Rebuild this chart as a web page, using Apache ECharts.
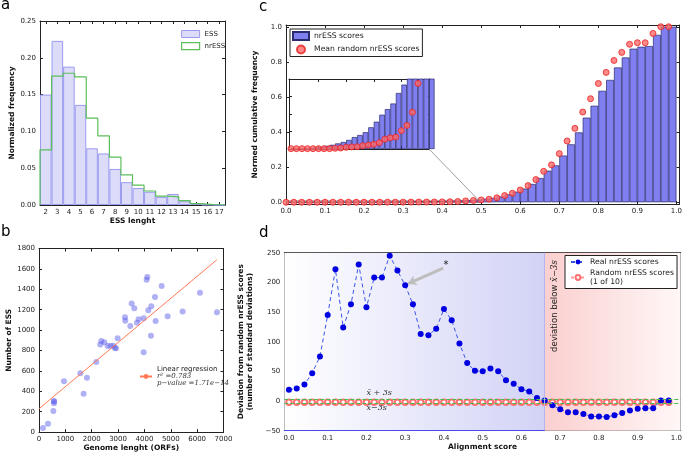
<!DOCTYPE html>
<html>
<head>
<meta charset="utf-8">
<script src="https://cdn.jsdelivr.net/npm/echarts@6.0.0/dist/echarts.min.js"></script>
<style>
html,body{margin:0;padding:0;background:#fff;}
#chart{width:685px;height:454px;}
</style>
</head>
<body>
<div id="chart"></div>
<script>
// ---------------- Panel a : ESS length histogram ----------------
const essLengths = ['2','3','4','5','6','7','8','9','10','11','12','13','14','15','16','17'];
const essFreq   = [0.150,0.223,0.188,0.136,0.077,0.070,0.049,0.031,0.023,0.018,0.011,0.015,0.005,0.0014,0.0005,0];
const nrEssFreq = [0.075,0.175,0.179,0.174,0.118,0.094,0.065,0.041,0.027,0.019,0.012,0.011,0.006,0.0018,0.0005,0];
const aYTicks = [0,0.05,0.10,0.15,0.20,0.25];

// ---------------- Panel b : ESS vs genome length ----------------
const genomeOrfs = [152,341,544,569,569,948,1568,1694,1820,2174,2326,2364,2478,2604,2718,2819,2882,2920,2983,3262,3274,3464,3515,3616,3717,3780,3970,3970,4083,4109,4147,4248,4260,4400,4425,4652,4880,5449,6106,6751,569];
const essCounts  = [41,83,206,284,304,499,577,376,532,688,860,893,880,844,847,847,824,821,919,1127,1091,1039,1260,1215,1072,1107,1117,782,1494,1520,1195,945,1234,1325,1088,1432,1136,1182,1365,1176,300];
const regressionX = [0, 6751];
const regressionY = [229, 1690];
const r2Text = '0.783';
const pValueText = '1.71e\u221214';
const bXTicks = [0,1000,2000,3000,4000,5000,6000,7000];
const bYTicks = [0,200,400,600,800,1000,1200,1400,1600,1800];

// ---------------- Panel c : cumulative frequency ----------------
const scoreBins = [0.00,0.02,0.04,0.06,0.08,0.10,0.12,0.14,0.16,0.18,0.20,0.22,0.24,0.26,0.28,0.30,0.32,0.34,0.36,0.38,0.40,0.42,0.44,0.46,0.48,0.50,0.52,0.54,0.56,0.58,0.60,0.62,0.64,0.66,0.68,0.70,0.72,0.74,0.76,0.78,0.80,0.82,0.84,0.86,0.88,0.90,0.92,0.94,0.96,0.98];
const nrEssCumFreq = [0.00006,0.00008,0.0001,0.00014,0.0002,0.00024,0.00036,0.00048,0.00064,0.0008,0.00104,0.00136,0.0016,0.00192,0.00248,0.00312,0.00392,0.00456,0.0052,0.0064,0.00736,0.0085,0.010,0.012,0.015,0.020,0.025,0.033,0.045,0.060,0.078,0.104,0.138,0.180,0.210,0.266,0.330,0.398,0.482,0.550,0.635,0.697,0.768,0.825,0.875,0.886,0.890,0.954,1.0,1.0];
const randomCumFreq = [0.00004,0.00004,0.00004,0.00004,0.00004,0.00004,0.00004,0.00004,0.00008,0.00011,0.00019,0.00024,0.00026,0.00038,0.00046,0.00054,0.00072,0.00112,0.00128,0.00136,0.0021,0.0027,0.0042,0.0075,0.010,0.013,0.017,0.025,0.038,0.051,0.070,0.095,0.129,0.176,0.213,0.277,0.349,0.421,0.514,0.590,0.677,0.740,0.808,0.854,0.900,0.909,0.909,0.962,1.0,1.0];
const cXTicks = [0,0.1,0.2,0.3,0.4,0.5,0.6,0.7,0.8,0.9,1.0];
const cYTicks = [0,0.2,0.4,0.6,0.8,1.0];
const insetXTicks = [0.1,0.2,0.3,0.4];
const insetYTicks = [0.002,0.004,0.006];

// ---------------- Panel d : deviation ----------------
const realDeviation = [19,21,28,47,75,145,222,124,163,230,158,208,208,245,220,195,163,113,111,122,155,136,97,64,51,50,55,50,35,29,20,16,5,1,-7,-14,-19,-19,-22,-26,-26,-27,-24,-20,-16,-13,-12,-12,1,1];
const randomDeviation = [-2,-2,-2,-2,-2,-2,-2,-2,-2,-2,-2,-2,-2,-2,-2,-2,-2,-2,-2,-2,-2,-2,-2,-2,-2,-2,-2,-2,-2,-2,-2,-2,-2,-2,-2,-2,-2,-2,-2,-2,-2,-2,-2,-2,-2,-2,-2,-2,-2,-2];
const dYTicks = [-50,0,50,100,150,200,250];
const plus3s = 3, minus3s = -3.5;
const thresholdScore = 0.66;

// ---------------- build ----------------
const FONT = 'DejaVu Sans';
const SERIF = 'DejaVu Serif';
const AX = '#222';

function mkAxis(gi, pos, o) {
  const lab = (pos === 'bottom' || pos === 'left') && !o.noLabels;
  const a = {
    type: o.type || 'value', gridIndex: gi, position: pos,
    min: o.min, max: o.max,
    axisLine: {show: true, onZero: false, lineStyle: {color: AX, width: 1}},
    axisTick: {show: true, inside: true, length: 3, lineStyle: {color: AX}},
    axisLabel: {show: lab, fontSize: 7, color: '#222', fontFamily: FONT, margin: 4},
    splitLine: {show: false},
    silent: true
  };
  if (o.data) { a.data = o.data; a.axisTick.alignWithLabel = true; a.axisTick.interval = 0; a.axisLabel.interval = 0; }
  if (o.ticks) { a.axisTick.customValues = o.ticks; a.axisLabel.customValues = o.ticks; }
  if (o.fmt) a.axisLabel.formatter = o.fmt;
  if (lab && o.name) {
    a.name = o.name; a.nameLocation = 'middle'; a.nameGap = o.nameGap;
    a.nameTextStyle = {fontSize: 7.5, fontWeight: 'bold', fontFamily: FONT, color: '#111', lineHeight: 9};
  }
  return a;
}
const f2 = v => v.toFixed(2), f1 = v => v.toFixed(1);
const f0 = v => String(v);
const fm = v => (v < 0 ? '\u2212' + (-v) : String(v));

const grid = [
  {left: 40, top: 21, width: 185, height: 184},
  {left: 39, top: 248.5, width: 184.5, height: 184.5},
  {left: 286, top: 25, width: 396.5, height: 179},
  {left: 284.3, top: 252.7, width: 399, height: 178},
  {left: 289, top: 79, width: 140, height: 70, show: true, backgroundColor: '#fff', borderWidth: 0}
];

const xAxis = [
  mkAxis(0, 'bottom', {type: 'category', data: essLengths, name: 'ESS lenght', nameGap: 11}),       // 0
  mkAxis(0, 'top', {min: 1.5, max: 17.5, ticks: essLengths.map(Number)}),                          // 1
  mkAxis(1, 'bottom', {min: 0, max: 7000, ticks: bXTicks, fmt: f0, name: 'Genome lenght (ORFs)', nameGap: 11}), // 2
  mkAxis(1, 'top', {min: 0, max: 7000, ticks: bXTicks}),                                          // 3
  mkAxis(2, 'bottom', {min: 0, max: 1.008, ticks: cXTicks, fmt: f1}),                              // 4
  mkAxis(2, 'top', {min: 0, max: 1.008, ticks: cXTicks}),                                         // 5
  mkAxis(3, 'bottom', {min: -0.012, max: 1.011, ticks: cXTicks, fmt: f1, name: 'Alignment score', nameGap: 12}), // 6
  mkAxis(3, 'top', {min: -0.012, max: 1.011, ticks: cXTicks}),                                    // 7
  mkAxis(4, 'bottom', {min: -0.007, max: 0.5, ticks: insetXTicks, noLabels: true}),               // 8
  mkAxis(4, 'top', {min: -0.007, max: 0.5, ticks: insetXTicks})                                   // 9
];
const yAxis = [
  mkAxis(0, 'left', {min: 0, max: 0.25, ticks: aYTicks, fmt: f2, name: 'Normalized frequency', nameGap: 20}), // 0
  mkAxis(0, 'right', {min: 0, max: 0.25, ticks: aYTicks}),                                        // 1
  mkAxis(1, 'left', {min: 0, max: 1800, ticks: bYTicks, fmt: f0, name: 'Number of ESS', nameGap: 20}), // 2
  mkAxis(1, 'right', {min: 0, max: 1800, ticks: bYTicks}),                                        // 3
  mkAxis(2, 'left', {min: -0.01, max: 1.01, ticks: cYTicks, fmt: f1, name: 'Normed cumulative frequency', nameGap: 17}), // 4
  mkAxis(2, 'right', {min: -0.01, max: 1.01, ticks: cYTicks}),                                    // 5
  mkAxis(3, 'left', {min: -50, max: 250, ticks: dYTicks, fmt: fm, name: 'Deviation from random nrESS scores\n(number of standard deviations)', nameGap: 25}), // 6
  mkAxis(3, 'right', {min: -50, max: 250, ticks: dYTicks}),                                       // 7
  mkAxis(4, 'left', {min: 0, max: 0.008, ticks: insetYTicks, noLabels: true}),                    // 8
  mkAxis(4, 'right', {min: 0, max: 0.008, ticks: insetYTicks})                                    // 9
];

// step outline for nrESS (bin edges from bin centres)
const nrStep = [[Number(essLengths[0]) - 0.5, 0]];
essLengths.forEach((l, i) => nrStep.push([Number(l) - 0.5, nrEssFreq[i]]));
nrStep.push([Number(essLengths[essLengths.length - 1]) + 0.5, nrEssFreq[nrEssFreq.length - 1]]);

const binW = scoreBins[1] - scoreBins[0];
const cBars = scoreBins.map((s, i) => [s + binW / 2, nrEssCumFreq[i]]);
const cPts = scoreBins.map((s, i) => [s, randomCumFreq[i]]);

const barStyleC = {color: '#7f7ff0', borderColor: '#2a2a70', borderWidth: 0.7};
const ptStyleC = {color: '#ff6a6a', borderColor: '#e82020', borderWidth: 1};

const series = [
  // ---- a
  {name: 'ESS', type: 'bar', xAxisIndex: 0, yAxisIndex: 0, data: essFreq, barWidth: '100%',
   itemStyle: {color: '#dcdcf8', borderColor: '#9a9af0', borderWidth: 1}, silent: true},
  {name: 'nrESS', type: 'line', xAxisIndex: 1, yAxisIndex: 0, data: nrStep, step: 'end', symbol: 'none',
   lineStyle: {color: '#5cbf5c', width: 1.2}, itemStyle: {color: '#5cbf5c'}, silent: true, z: 3},
  // ---- b
  {name: 'Genomes', type: 'scatter', xAxisIndex: 2, yAxisIndex: 2,
   data: genomeOrfs.map((g, i) => [g, essCounts[i]]), symbolSize: 6,
   itemStyle: {color: 'rgba(95,95,235,0.62)'}, silent: true},
  {name: 'Linear regression', type: 'line', xAxisIndex: 2, yAxisIndex: 2,
   data: regressionX.map((x, i) => [x, regressionY[i]]), symbol: 'none',
   lineStyle: {color: '#ff7a55', width: 1}, itemStyle: {color: '#ff7a55'}, silent: true},
  // ---- c main
  {name: 'nrESS scores', type: 'bar', xAxisIndex: 4, yAxisIndex: 4, data: cBars, barWidth: '100%',
   itemStyle: barStyleC, silent: true,
   markArea: {silent: true, itemStyle: {color: 'rgba(0,0,0,0)', borderColor: '#999', borderWidth: 1},
     data: [[{coord: [0, 0]}, {coord: [0.5, 0.008]}]]}},
  {name: 'Mean random nrESS scores', type: 'scatter', xAxisIndex: 4, yAxisIndex: 4, data: cPts,
   symbolSize: 6, itemStyle: ptStyleC, silent: true, z: 4},
  // ---- c inset
  {name: 'inset bars', type: 'bar', xAxisIndex: 8, yAxisIndex: 8, data: cBars, barWidth: '100%',
   itemStyle: barStyleC, silent: true, clip: true},
  {name: 'inset pts', type: 'scatter', xAxisIndex: 8, yAxisIndex: 8, data: cPts,
   symbolSize: 6, itemStyle: ptStyleC, silent: true, clip: true, z: 4},
  // ---- d
  {name: 'Random nrESS scores', type: 'line', xAxisIndex: 6, yAxisIndex: 6,
   data: scoreBins.map((s, i) => [s, randomDeviation[i]]),
   symbol: 'emptyCircle', symbolSize: 5.5, showSymbol: true,
   lineStyle: {color: '#ff9a9a', width: 1, type: [3, 2]}, itemStyle: {color: '#ff7070', borderWidth: 1}, silent: true, z: 3,
   markArea: {silent: true, data: [
     [{xAxis: -0.012, itemStyle: {color: {type: 'linear', x: 0, y: 0, x2: 1, y2: 0, colorStops: [{offset: 0, color: '#ffffff'}, {offset: 1, color: '#d2d2f6'}]}, borderWidth: 0}}, {xAxis: thresholdScore}],
     [{xAxis: thresholdScore, itemStyle: {color: {type: 'linear', x: 0, y: 0, x2: 1, y2: 0, colorStops: [{offset: 0, color: '#fbcfcf'}, {offset: 1, color: '#fff7f7'}]}, borderWidth: 0}}, {xAxis: 1.011}]
   ]},
   markLine: {silent: true, symbol: 'none', label: {show: false},
     lineStyle: {color: '#4cb84c', width: 1, type: [4, 2]},
     data: [
       {yAxis: plus3s}, {yAxis: minus3s},
       {xAxis: thresholdScore, lineStyle: {color: '#b4b4ee', type: 'solid', width: 1}},
       [{coord: [-0.012, -50], lineStyle: {color: '#4a4ae8', type: 'solid', width: 1.2}}, {coord: [thresholdScore, -50]}]
     ]}},
  {name: 'Real nrESS scores', type: 'line', xAxisIndex: 6, yAxisIndex: 6,
   data: scoreBins.map((s, i) => [s, realDeviation[i]]),
   symbol: 'circle', symbolSize: 6, showSymbol: true,
   lineStyle: {color: '#3a55e6', width: 1, type: [4, 3]}, itemStyle: {color: '#0000e0'}, silent: true, z: 4,
   markLine: {silent: true, symbol: ['none', 'arrow'], symbolSize: 8, label: {show: false},
     lineStyle: {color: '#bdbdbd', width: 3, type: 'solid'},
     data: [[{coord: [0.398, 224]}, {coord: [0.308, 198]}]]}}
];

const legTxt = {fontSize: 7, fontFamily: FONT, color: '#222'};
const legTxt8 = {fontSize: 7.7, fontFamily: FONT, color: '#222'};
const legend = [
  {left: 176, top: 25, orient: 'vertical', itemWidth: 18, itemHeight: 7, itemGap: 4, textStyle: legTxt, selectedMode: false,
   data: [{name: 'ESS', icon: 'rect', itemStyle: {color: '#dcdcf8', borderColor: '#9a9af0', borderWidth: 1}},
          {name: 'nrESS', icon: 'rect', itemStyle: {color: 'rgba(255,255,255,0)', borderColor: '#5cbf5c', borderWidth: 1.2}}]},
  {left: 134, top: 361, orient: 'vertical', itemWidth: 12, itemHeight: 6, textStyle: Object.assign({}, legTxt, {lineHeight: 7,
     rich: {m: {fontFamily: SERIF, fontStyle: 'italic', fontSize: 7, color: '#333', lineHeight: 7}}}), selectedMode: false,
   data: ['Linear regression'],
   formatter: n => n + '\n{m|r\u00B2 =' + r2Text + '}\n{m|p\u2212value =' + pValueText + '}'},
  {left: 290, top: 29, orient: 'vertical', itemWidth: 16, itemHeight: 8, itemGap: 3.5, padding: [2, 3, 2, 2],
   borderColor: '#222', borderWidth: 1, backgroundColor: '#fff', textStyle: legTxt8, selectedMode: false,
   data: [{name: 'nrESS scores', icon: 'rect'}, {name: 'Mean random nrESS scores', icon: 'circle'}]},
  {left: 565, top: 255.5, orient: 'vertical', itemWidth: 14, itemHeight: 6, itemGap: 2, padding: [2, 3, 2, 5],
   borderColor: '#222', borderWidth: 1, backgroundColor: '#fff', textStyle: Object.assign({}, legTxt8, {lineHeight: 9}), selectedMode: false,
   data: ['Real nrESS scores', 'Random nrESS scores'],
   formatter: n => n === 'Random nrESS scores' ? n + '\n(1 of 10)' : n}
];

const letters = [['a', 1, 5.5], ['b', 1, 232.5], ['c', 259, 7], ['d', 259, 233]].map(([t, x, y]) => ({
  type: 'text', x: x, y: y, silent: true,
  style: {text: t, fontSize: 15, fontFamily: FONT, fill: '#000', verticalAlign: 'middle'}
}));

const chart = echarts.init(document.getElementById('chart'), null, {renderer: 'canvas'});
chart.setOption({animation: false, backgroundColor: '#fff', grid, xAxis, yAxis, series, legend, graphic: letters});

// annotations anchored to data coordinates
const P = (xi, yi, pt) => chart.convertToPixel({xAxisIndex: xi, yAxisIndex: yi}, pt);
const c1 = P(8, 8, [0.5, 0]);
const c2 = P(4, 4, [0.495, 0.008]);
const star = P(6, 6, [0.405, 229]);
const up = P(6, 6, [0.2, 13]);
const dn = P(6, 6, [0.2, -11]);
const vt = P(6, 6, [0.687, 160]);
const mathStyle = {fontFamily: SERIF, fontStyle: 'italic', fontSize: 8, fill: '#333'};
const extra = [
  {type: 'line', silent: true, shape: {x1: c1[0], y1: c1[1], x2: c2[0], y2: c2[1]}, style: {stroke: '#888', lineWidth: 0.8}, z: 10},
  {type: 'text', silent: true, x: star[0], y: star[1], style: {text: '*', fontSize: 10, fontFamily: FONT, fill: '#222', align: 'center', verticalAlign: 'middle'}, z: 10},
  {type: 'text', silent: true, x: up[0], y: up[1], style: Object.assign({text: 'x\u0304 + 3s', align: 'left', verticalAlign: 'middle'}, mathStyle), z: 10},
  {type: 'text', silent: true, x: dn[0], y: dn[1], style: Object.assign({text: 'x\u0304\u22123s', align: 'left', verticalAlign: 'middle'}, mathStyle), z: 10},
  {type: 'text', silent: true, x: vt[0], y: vt[1], rotation: Math.PI / 2,
   style: {text: 'deviation below {m|x\u0304\u22123s}', fontSize: 8.5, fontFamily: FONT, fill: '#222', align: 'center', verticalAlign: 'middle',
     rich: {m: {fontFamily: SERIF, fontStyle: 'italic', fontSize: 8.5, fill: '#222'}}}, z: 10}
];
chart.setOption({graphic: letters.concat(extra)});
</script>
</body>
</html>
